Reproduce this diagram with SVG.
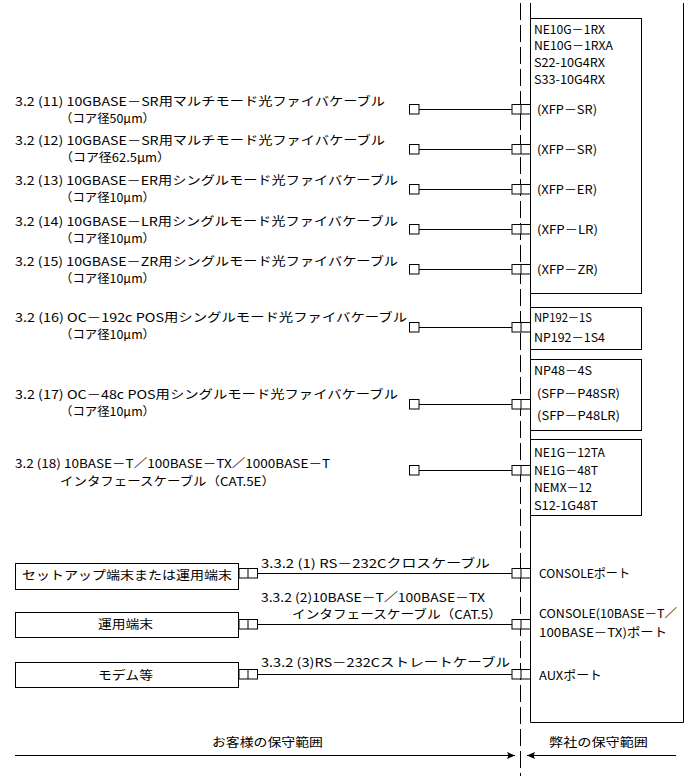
<svg xmlns="http://www.w3.org/2000/svg" width="691" height="776" viewBox="0 0 691 776">
<defs>
<style>
text{font-family:"Noto Sans CJK JP","Noto Sans",sans-serif;font-size:12px;fill:#000}
.ln{stroke:#000;stroke-width:1;fill:none}
.bx{stroke:#000;stroke-width:1;fill:#fff}
.dash{stroke:#000;stroke-width:1;stroke-dasharray:17 5;stroke-dashoffset:-3;fill:none}
</style>
<marker id="ah" viewBox="0 0 8 8" refX="8" refY="4" markerWidth="8" markerHeight="8" markerUnits="userSpaceOnUse" orient="auto">
<path d="M0,0.5 L8,4 L0,7.5 L1.5,4 Z" fill="#000"/>
</marker>
</defs>
<rect width="691" height="776" fill="#fff"/>

<line class="dash" x1="520.5" y1="0" x2="520.5" y2="776"/>

<g id="chassis">
<path class="ln" d="M530.5,3 V722.5 H683.5 V3"/>
</g>
<g id="mod-ne10g">
<rect class="bx" x="530.5" y="18.5" width="111" height="275"/>
<text x="534" y="34" textLength="71" lengthAdjust="spacingAndGlyphs">NE10G－1RX</text>
<text x="534" y="50" textLength="79" lengthAdjust="spacingAndGlyphs">NE10G－1RXA</text>
<text x="534" y="67" textLength="71" lengthAdjust="spacingAndGlyphs">S22-10G4RX</text>
<text x="534" y="84" textLength="71" lengthAdjust="spacingAndGlyphs">S33-10G4RX</text>
<text x="537" y="114" textLength="60" lengthAdjust="spacingAndGlyphs">(XFP－SR)</text>
<text x="537" y="154" textLength="60" lengthAdjust="spacingAndGlyphs">(XFP－SR)</text>
<text x="537" y="194" textLength="60" lengthAdjust="spacingAndGlyphs">(XFP－ER)</text>
<text x="537" y="234" textLength="61" lengthAdjust="spacingAndGlyphs">(XFP－LR)</text>
<text x="537" y="274" textLength="61" lengthAdjust="spacingAndGlyphs">(XFP－ZR)</text>
</g>
<g id="mod-np192">
<rect class="bx" x="530.5" y="307.5" width="111" height="42"/>
<text x="534" y="322" textLength="58" lengthAdjust="spacingAndGlyphs">NP192－1S</text>
<text x="534" y="342" textLength="71" lengthAdjust="spacingAndGlyphs">NP192－1S4</text>
</g>
<g id="mod-np48">
<rect class="bx" x="530.5" y="359.5" width="111" height="71"/>
<text x="534" y="375" textLength="58" lengthAdjust="spacingAndGlyphs">NP48－4S</text>
<text x="537" y="398" textLength="83" lengthAdjust="spacingAndGlyphs">(SFP－P48SR)</text>
<text x="537" y="420" textLength="83" lengthAdjust="spacingAndGlyphs">(SFP－P48LR)</text>
</g>
<g id="mod-ne1g">
<rect class="bx" x="530.5" y="439.5" width="111" height="76"/>
<text x="534" y="457" textLength="71" lengthAdjust="spacingAndGlyphs">NE1G－12TA</text>
<text x="534" y="475" textLength="64" lengthAdjust="spacingAndGlyphs">NE1G－48T</text>
<text x="534" y="492" textLength="58" lengthAdjust="spacingAndGlyphs">NEMX－12</text>
<text x="534" y="510" textLength="64" lengthAdjust="spacingAndGlyphs">S12-1G48T</text>
</g>
<g id="ports">
<text x="539" y="578" textLength="91" lengthAdjust="spacingAndGlyphs">CONSOLEポート</text>
<text x="539" y="618" textLength="138" lengthAdjust="spacingAndGlyphs">CONSOLE(10BASE－T／</text>
<text x="539" y="637" textLength="128" lengthAdjust="spacingAndGlyphs">100BASE－TX)ポート</text>
<text x="539" y="680" textLength="63" lengthAdjust="spacingAndGlyphs">AUXポート</text>
</g>

<g id="term-setup">
<rect class="bx" x="15.5" y="563.5" width="223" height="26"/>
<text x="22" y="580" textLength="210" lengthAdjust="spacingAndGlyphs">セットアップ端末または運用端末</text>
</g>
<g id="term-ops">
<rect class="bx" x="15.5" y="612.5" width="223" height="25"/>
<text x="98" y="629" textLength="55" lengthAdjust="spacingAndGlyphs">運用端末</text>
</g>
<g id="term-modem">
<rect class="bx" x="15.5" y="662.5" width="223" height="25"/>
<text x="98" y="680" textLength="55" lengthAdjust="spacingAndGlyphs">モデム等</text>
</g>

<g id="cable-labels">
<text x="15" y="106" textLength="370" lengthAdjust="spacingAndGlyphs">3.2 (11) 10GBASE－SR用マルチモード光ファイバケーブル</text>
<text x="60" y="123" textLength="95" lengthAdjust="spacingAndGlyphs">（コア径50μm）</text>
<text x="15" y="145" textLength="370" lengthAdjust="spacingAndGlyphs">3.2 (12) 10GBASE－SR用マルチモード光ファイバケーブル</text>
<text x="60" y="162" textLength="110" lengthAdjust="spacingAndGlyphs">（コア径62.5μm）</text>
<text x="15" y="185" textLength="383" lengthAdjust="spacingAndGlyphs">3.2 (13) 10GBASE－ER用シングルモード光ファイバケーブル</text>
<text x="60" y="202" textLength="95" lengthAdjust="spacingAndGlyphs">（コア径10μm）</text>
<text x="15" y="226" textLength="383" lengthAdjust="spacingAndGlyphs">3.2 (14) 10GBASE－LR用シングルモード光ファイバケーブル</text>
<text x="60" y="243" textLength="95" lengthAdjust="spacingAndGlyphs">（コア径10μm）</text>
<text x="15" y="266" textLength="383" lengthAdjust="spacingAndGlyphs">3.2 (15) 10GBASE－ZR用シングルモード光ファイバケーブル</text>
<text x="60" y="283" textLength="95" lengthAdjust="spacingAndGlyphs">（コア径10μm）</text>
<text x="15" y="322" textLength="392" lengthAdjust="spacingAndGlyphs">3.2 (16) OC－192c POS用シングルモード光ファイバケーブル</text>
<text x="60" y="339" textLength="95" lengthAdjust="spacingAndGlyphs">（コア径10μm）</text>
<text x="15" y="399" textLength="383" lengthAdjust="spacingAndGlyphs">3.2 (17) OC－48c POS用シングルモード光ファイバケーブル</text>
<text x="60" y="416" textLength="95" lengthAdjust="spacingAndGlyphs">（コア径10μm）</text>
<text x="15" y="468" textLength="315" lengthAdjust="spacingAndGlyphs">3.2 (18) 10BASE－T／100BASE－TX／1000BASE－T</text>
<text x="60" y="486" textLength="215" lengthAdjust="spacingAndGlyphs">インタフェースケーブル（CAT.5E）</text>
<text x="261" y="568" textLength="229" lengthAdjust="spacingAndGlyphs">3.3.2 (1) RS－232Cクロスケーブル</text>
<text x="261" y="602" textLength="224" lengthAdjust="spacingAndGlyphs">3.3.2 (2)10BASE－T／100BASE－TX</text>
<text x="292" y="619" textLength="210" lengthAdjust="spacingAndGlyphs">インタフェースケーブル（CAT.5）</text>
<text x="261" y="667" textLength="249" lengthAdjust="spacingAndGlyphs">3.3.2 (3)RS－232Cストレートケーブル</text>
</g>

<g id="connectors">
<g id="c11"><rect class="bx" x="409.5" y="104.5" width="9.5" height="9.5"/><line class="ln" x1="419" y1="109.5" x2="512" y2="109.5"/><rect class="bx" x="512" y="104.5" width="18.5" height="9.5"/><line class="ln" x1="521" y1="104.5" x2="521" y2="114"/></g>
<g id="c12"><rect class="bx" x="409.5" y="144.5" width="9.5" height="9.5"/><line class="ln" x1="419" y1="149.5" x2="512" y2="149.5"/><rect class="bx" x="512" y="144.5" width="18.5" height="9.5"/><line class="ln" x1="521" y1="144.5" x2="521" y2="154"/></g>
<g id="c13"><rect class="bx" x="409.5" y="184.5" width="9.5" height="9.5"/><line class="ln" x1="419" y1="189.5" x2="512" y2="189.5"/><rect class="bx" x="512" y="184.5" width="18.5" height="9.5"/><line class="ln" x1="521" y1="184.5" x2="521" y2="194"/></g>
<g id="c14"><rect class="bx" x="409.5" y="224.5" width="9.5" height="9.5"/><line class="ln" x1="419" y1="229.5" x2="512" y2="229.5"/><rect class="bx" x="512" y="224.5" width="18.5" height="9.5"/><line class="ln" x1="521" y1="224.5" x2="521" y2="234"/></g>
<g id="c15"><rect class="bx" x="409.5" y="264.5" width="9.5" height="9.5"/><line class="ln" x1="419" y1="269.5" x2="512" y2="269.5"/><rect class="bx" x="512" y="264.5" width="18.5" height="9.5"/><line class="ln" x1="521" y1="264.5" x2="521" y2="274"/></g>
<g id="c16"><rect class="bx" x="409.5" y="322.5" width="9.5" height="9.5"/><line class="ln" x1="419" y1="327.5" x2="512" y2="327.5"/><rect class="bx" x="512" y="322.5" width="18.5" height="9.5"/><line class="ln" x1="521" y1="322.5" x2="521" y2="332"/></g>
<g id="c17"><rect class="bx" x="409.5" y="399.5" width="9.5" height="9.5"/><line class="ln" x1="419" y1="404.5" x2="512" y2="404.5"/><rect class="bx" x="512" y="399.5" width="18.5" height="9.5"/><line class="ln" x1="521" y1="399.5" x2="521" y2="409"/></g>
<g id="c18"><rect class="bx" x="409.5" y="465.5" width="9.5" height="9.5"/><line class="ln" x1="419" y1="470.5" x2="512" y2="470.5"/><rect class="bx" x="512" y="465.5" width="18.5" height="9.5"/><line class="ln" x1="521" y1="465.5" x2="521" y2="475"/></g>
<g id="cb1"><rect class="bx" x="239" y="568.5" width="18.5" height="9.5"/><line class="ln" x1="248" y1="568.5" x2="248" y2="578"/><line class="ln" x1="257.5" y1="573.5" x2="512" y2="573.5"/><rect class="bx" x="512" y="568.5" width="18.5" height="9.5"/><line class="ln" x1="521" y1="568.5" x2="521" y2="578"/></g>
<g id="cb2"><rect class="bx" x="239" y="619.5" width="18.5" height="9.5"/><line class="ln" x1="248" y1="619.5" x2="248" y2="629"/><line class="ln" x1="257.5" y1="624.5" x2="512" y2="624.5"/><rect class="bx" x="512" y="619.5" width="18.5" height="9.5"/><line class="ln" x1="521" y1="619.5" x2="521" y2="629"/></g>
<g id="cb3"><rect class="bx" x="239" y="669.5" width="18.5" height="9.5"/><line class="ln" x1="248" y1="669.5" x2="248" y2="679"/><line class="ln" x1="257.5" y1="674.5" x2="512" y2="674.5"/><rect class="bx" x="512" y="669.5" width="18.5" height="9.5"/><line class="ln" x1="521" y1="669.5" x2="521" y2="679"/></g>
</g>

<g id="scope">
<text x="212" y="747" textLength="111" lengthAdjust="spacingAndGlyphs">お客様の保守範囲</text>
<text x="549" y="747" textLength="99" lengthAdjust="spacingAndGlyphs">弊社の保守範囲</text>
<line class="ln" x1="15" y1="755.5" x2="515" y2="755.5" marker-end="url(#ah)"/>
<line class="ln" x1="676" y1="755.5" x2="527" y2="755.5" marker-end="url(#ah)"/>
</g>
</svg>
